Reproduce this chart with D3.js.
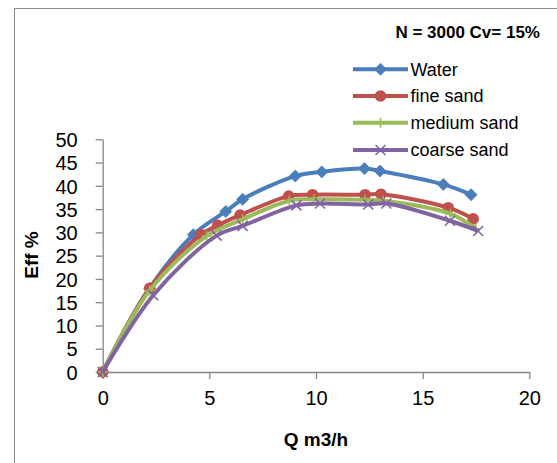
<!DOCTYPE html>
<html><head><meta charset="utf-8">
<script src="https://cdn.jsdelivr.net/npm/d3@7"></script>
<style>body{margin:0;background:#fff}svg{display:block}text{font-family:"Liberation Sans",Arial,sans-serif}</style>
</head><body>
<svg id="c" width="557" height="463"></svg>
<script>
const seriesNames = ["Water","fine sand","medium sand","coarse sand"];
const seriesColors = ["#4A7EBB","#C0504D","#9BBB59","#8064A2"];
const waterQ = [0,2.2,4.25,5.77,6.56,9.03,10.27,12.27,13.0,15.97,17.27];
const waterE = [0,18,29.5,34.5,37.1,42.1,43.0,43.7,43.2,40.3,38.1];
const fineQ = [0,2.2,4.6,5.39,6.44,8.72,9.84,12.3,13.05,16.2,17.37];
const fineE = [0,18,29.5,31.5,33.7,37.8,38.1,38.1,38.2,35.3,32.9];
const mediumQ = [0,2.2,4.87,6.56,8.75,9.9,12.3,13.15,16.3,17.5];
const mediumE = [0,17.5,29.2,32.8,36.8,37.1,37.0,36.8,34.0,30.8];
const coarseQ = [0,2.37,5.34,6.56,9.08,10.19,12.45,13.3,16.28,17.6];
const coarseE = [0,16.5,29.3,31.4,35.8,36.2,36.0,36.2,32.5,30.3];
const xTicks = [0,5,10,15,20];
const yTicks = [0,5,10,15,20,25,30,35,40,45,50];
const titleText = "N = 3000 Cv= 15%";
const xTitle = "Q m3/h";
const yTitle = "Eff %";

const svg = d3.select("#c");
svg.append("rect").attr("x",14.5).attr("y",8.5).attr("width",560).attr("height",480)
  .attr("fill","none").attr("stroke","#8c8c8c").attr("stroke-width",1);

const x = d3.scaleLinear().domain([0,20]).range([102.7,529.3]);
const y = d3.scaleLinear().domain([0,50]).range([372,139.3]);

const axisColor = "#868686";
const gx = svg.append("g").attr("transform","translate(0,372)")
  .call(d3.axisBottom(x).tickValues(xTicks).tickSize(7).tickPadding(12).tickSizeOuter(0));
const gy = svg.append("g").attr("transform","translate(102.7,0)")
  .call(d3.axisLeft(y).tickValues(yTicks).tickSize(7).tickPadding(18).tickSizeOuter(0));
[gx,gy].forEach(g=>{
  g.selectAll("path,line").attr("stroke",axisColor).attr("stroke-width",1.3);
  g.selectAll("text").attr("font-size",20).attr("fill","#000").attr("font-family","Liberation Sans, Arial, sans-serif");
});
gy.selectAll("text").attr("dy","0.36em");

const data = [
  {q:waterQ,e:waterE},{q:fineQ,e:fineE},{q:mediumQ,e:mediumE},{q:coarseQ,e:coarseE}
].map((s,i)=>({name:seriesNames[i],color:seriesColors[i],pts:s.q.map((q,j)=>[q,s.e[j]])}));

const line = d3.line().x(d=>x(d[0])).y(d=>y(d[1])).curve(d3.curveCatmullRom.alpha(0.5));

function marker(g,i,cx,cy,color){
  if(i===0){
    g.append("path").attr("d",`M${cx},${cy-6}L${cx+6},${cy}L${cx},${cy+6}L${cx-6},${cy}Z`)
      .attr("fill",color).attr("stroke",color).attr("stroke-width",0.8);
  } else if(i===1){
    g.append("circle").attr("cx",cx).attr("cy",cy).attr("r",5.8).attr("fill",color);
  } else if(i===2){
    g.append("line").attr("x1",cx).attr("x2",cx).attr("y1",cy-5).attr("y2",cy+5).attr("stroke",color).attr("stroke-width",1.5);
    g.append("line").attr("x1",cx-5).attr("x2",cx+5).attr("y1",cy).attr("y2",cy).attr("stroke",color).attr("stroke-width",1.5);
  } else {
    g.append("path").attr("d",`M${cx-5},${cy-5}L${cx+5},${cy+5}M${cx-5},${cy+5}L${cx+5},${cy-5}`)
      .attr("stroke",color).attr("stroke-width",1.6).attr("fill","none");
  }
}

data.forEach((s,i)=>{
  const g = svg.append("g");
  g.append("path").attr("d",line(s.pts)).attr("fill","none").attr("stroke",s.color).attr("stroke-width",4).attr("stroke-linejoin","round");
  s.pts.forEach(p=>marker(g,i,x(p[0]),y(p[1]),s.color));
});

svg.append("text").attr("x",540).attr("y",38).attr("text-anchor","end")
  .attr("font-size",17).attr("font-weight","bold").text(titleText);

const legY = [69.3,96,122.7,150];
data.forEach((s,i)=>{
  const g = svg.append("g");
  g.append("line").attr("x1",353).attr("x2",408).attr("y1",legY[i]).attr("y2",legY[i])
    .attr("stroke",s.color).attr("stroke-width",4);
  marker(g,i,380.5,legY[i],s.color);
  g.append("text").attr("x",410.5).attr("y",legY[i]+6.3).attr("font-size",18).text(s.name);
});

svg.append("text").attr("x",316).attr("y",446).attr("text-anchor","middle")
  .attr("font-size",19).attr("font-weight","bold").text(xTitle);
svg.append("text").attr("transform","translate(38,255) rotate(-90)").attr("text-anchor","middle")
  .attr("font-size",19).attr("font-weight","bold").text(yTitle);
</script>
</body></html>
